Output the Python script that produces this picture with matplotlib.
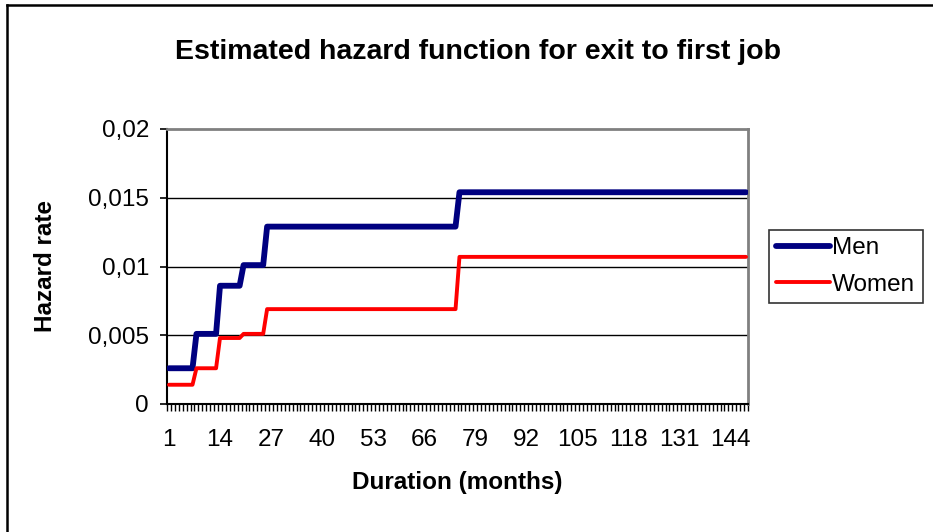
import numpy as np
import matplotlib
matplotlib.use("Agg")
import matplotlib.pyplot as plt
from matplotlib.lines import Line2D

plt.rcParams['font.family'] = ['Liberation Sans', 'DejaVu Sans']

# hazard estimates (piecewise constant)
n_months = 148
break_months = [1, 8, 14, 20, 26, 75]
men_levels = [0.0026, 0.0051, 0.0086, 0.0101, 0.0129, 0.0154]
women_levels = [0.0014, 0.0026, 0.0048, 0.0051, 0.0069, 0.0107]
y_ticks = [0, 0.005, 0.01, 0.015, 0.02]
y_ticklabels = ['0', '0,005', '0,01', '0,015', '0,02']
x_label_months = list(range(1, 145, 13))

months = np.arange(1, n_months + 1)
spans = np.diff(break_months + [n_months + 1])
men = np.repeat(men_levels, spans)
women = np.repeat(women_levels, spans)

W, H = 933, 532
fig = plt.figure(figsize=(W / 100, H / 100), dpi=100)


def fx(px):
    return px / W


def fy(py):
    return 1 - py / H


ax = fig.add_axes([fx(167), fy(404), fx(748) - fx(167), fy(129) - fy(404)])

ax.plot(months, men, color='#000080', lw=4.2, solid_capstyle='round',
        solid_joinstyle='round', label='Men', zorder=3)
ax.plot(months, women, color='#ff0000', lw=2.8, solid_capstyle='round',
        solid_joinstyle='round', label='Women', zorder=3)

ax.set_xlim(0.5, n_months + 0.5)
ax.set_ylim(0, 0.02)
ax.set_yticks(y_ticks)
ax.set_yticklabels(y_ticklabels, fontsize=17.5)
ax.set_xticks(x_label_months)
ax.set_xticklabels([str(m) for m in x_label_months], fontsize=17.5)
ax.set_xticks(np.arange(0.5, n_months + 1), minor=True)
ax.tick_params(axis='x', which='major', length=0, pad=18)
ax.tick_params(axis='x', which='minor', length=5, width=1, direction='out')
ax.tick_params(axis='y', length=5, width=1.2, direction='out', pad=8)

for v in y_ticks[1:-1]:
    ax.axhline(v, color='black', lw=1, zorder=1)

ax.spines['top'].set_color('#808080')
ax.spines['right'].set_color('#808080')
ax.spines['top'].set_linewidth(2)
ax.spines['right'].set_linewidth(2)
ax.spines['left'].set_linewidth(1.5)
ax.spines['bottom'].set_linewidth(1.5)

fig.text(fx(478), fy(52), 'Estimated hazard function for exit to first job',
         fontsize=20.5, fontweight='bold', ha='center', va='center')
fig.text(fx(457), fy(482), 'Duration (months)', fontsize=17.5,
         fontweight='bold', ha='center', va='center')
fig.text(fx(46), fy(266), 'Hazard rate', fontsize=17.5, fontweight='bold',
         ha='center', va='center', rotation=90)

leg = fig.legend(loc='upper left', bbox_to_anchor=(fx(769), fy(230)),
                 fontsize=17.5, frameon=True, fancybox=False, handlelength=2.2,
                 handletextpad=0.1, borderpad=0.3, labelspacing=0.6,
                 borderaxespad=0)
leg.get_frame().set_edgecolor('black')
leg.get_frame().set_linewidth(1.2)

# outer chart border (cut at right and bottom)
fig.add_artist(Line2D([fx(7.5), 1], [fy(4.5), fy(4.5)], color='black', lw=1.8))
fig.add_artist(Line2D([fx(7.5), fx(7.5)], [fy(4.5), 0], color='black', lw=1.8))

fig.savefig('out.png', dpi=100)
